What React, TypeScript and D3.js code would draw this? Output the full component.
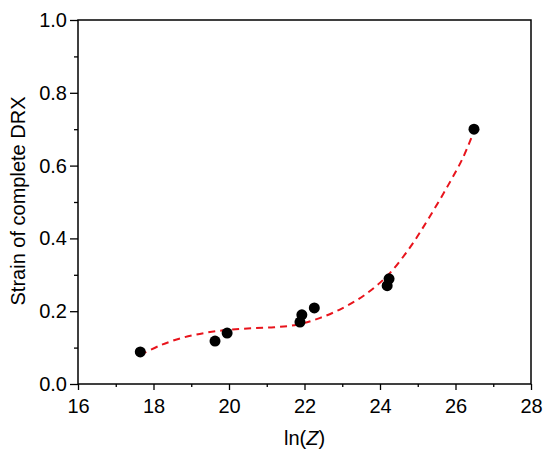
import { useEffect, useRef } from "react";
import * as d3 from "d3";

// measured points: ln(Z) vs strain of complete DRX
const lnZ = [17.65, 19.63, 19.95, 21.88, 21.93, 22.26, 24.19, 24.24, 26.49];
const strain = [0.088, 0.118, 0.14, 0.17, 0.19, 0.209, 0.27, 0.289, 0.70];

// fitted curve (dashed red)
const fitX = [17.65, 18.2, 18.8, 19.4, 20.0, 20.6, 21.2, 21.8, 22.4, 23.0, 23.6, 24.2, 24.8, 25.3, 25.8, 26.2, 26.5];
const fitY = [0.08, 0.107, 0.128, 0.141, 0.149, 0.153, 0.156, 0.163, 0.181, 0.208, 0.245, 0.298, 0.376, 0.457, 0.545, 0.622, 0.698];

const xMajor = [16, 18, 20, 22, 24, 26, 28];
const xMinor = [17, 19, 21, 23, 25, 27];
const yMajor = [0, 0.2, 0.4, 0.6, 0.8, 1.0];
const yMinor = [0.1, 0.3, 0.5, 0.7, 0.9];

export default function App() {
  const ref = useRef<SVGSVGElement>(null);

  useEffect(() => {
    if (!ref.current) return;
    const el = ref.current;
    const width = 550;
    const height = 457;
    const margin = { top: 20, right: 19, bottom: 73, left: 78 };
    const innerWidth = width - margin.left - margin.right;
    const innerHeight = height - margin.top - margin.bottom;
    const font = "'Liberation Sans', Arial, sans-serif";

    d3.select(el).selectAll("*").remove();

    const svg = d3
      .select(el)
      .attr("width", width)
      .attr("height", height)
      .append("g")
      .attr("transform", `translate(${margin.left},${margin.top})`);

    const x = d3.scaleLinear().domain([16, 28]).range([0, innerWidth]);
    const y = d3.scaleLinear().domain([0, 1]).range([innerHeight, 0]);

    // Fit curve
    const line = d3
      .line<number>()
      .x((_, i) => x(fitX[i]))
      .y((d) => y(d))
      .curve(d3.curveCatmullRom);

    svg
      .append("path")
      .datum(fitY)
      .attr("d", line)
      .attr("fill", "none")
      .attr("stroke", "#e8141c")
      .attr("stroke-width", 2)
      .attr("stroke-dasharray", "7 5");

    // Points
    svg
      .selectAll(".pt")
      .data(lnZ)
      .join("circle")
      .attr("class", "pt")
      .attr("cx", (d) => x(d))
      .attr("cy", (_, i) => y(strain[i]))
      .attr("r", 5.5)
      .attr("fill", "#000");

    // Frame
    svg
      .append("rect")
      .attr("width", innerWidth)
      .attr("height", innerHeight)
      .attr("fill", "none")
      .attr("stroke", "#000")
      .attr("stroke-width", 1.5);

    // Axes
    const styleAxis = (g: d3.Selection<SVGGElement, unknown, null, undefined>) => {
      g.select(".domain").remove();
      g.selectAll("line").attr("stroke", "#000").attr("stroke-width", 1.3);
      g.selectAll("text")
        .style("font-family", font)
        .style("font-size", "20px")
        .attr("fill", "#000");
    };

    svg
      .append("g")
      .attr("transform", `translate(0,${innerHeight})`)
      .call(d3.axisBottom(x).tickValues(xMajor).tickFormat(d3.format("d")).tickSize(6).tickPadding(9))
      .call(styleAxis);

    svg
      .append("g")
      .attr("transform", `translate(0,${innerHeight})`)
      .call(d3.axisBottom(x).tickValues(xMinor).tickFormat(() => "").tickSize(3))
      .call(styleAxis);

    svg
      .append("g")
      .call(d3.axisLeft(y).tickValues(yMajor).tickFormat(d3.format(".1f")).tickSize(8).tickPadding(3))
      .call(styleAxis);

    svg
      .append("g")
      .call(d3.axisLeft(y).tickValues(yMinor).tickFormat(() => "").tickSize(4))
      .call(styleAxis);

    // Axis titles
    const xt = svg
      .append("text")
      .attr("x", innerWidth / 2)
      .attr("y", innerHeight + 61)
      .attr("text-anchor", "middle")
      .style("font-family", font)
      .style("font-size", "20px");
    xt.append("tspan").text("ln(");
    xt.append("tspan").attr("font-style", "italic").text("Z");
    xt.append("tspan").text(")");

    svg
      .append("text")
      .attr("transform", `translate(${-53},${innerHeight / 2 - 1}) rotate(-90)`)
      .attr("text-anchor", "middle")
      .style("font-family", font)
      .style("font-size", "20px")
      .text("Strain of complete DRX");
  }, []);

  return (
    <svg
      ref={ref}
      style={{ position: "absolute", left: 0, top: 0, background: "#fff" }}
    />
  );
}
